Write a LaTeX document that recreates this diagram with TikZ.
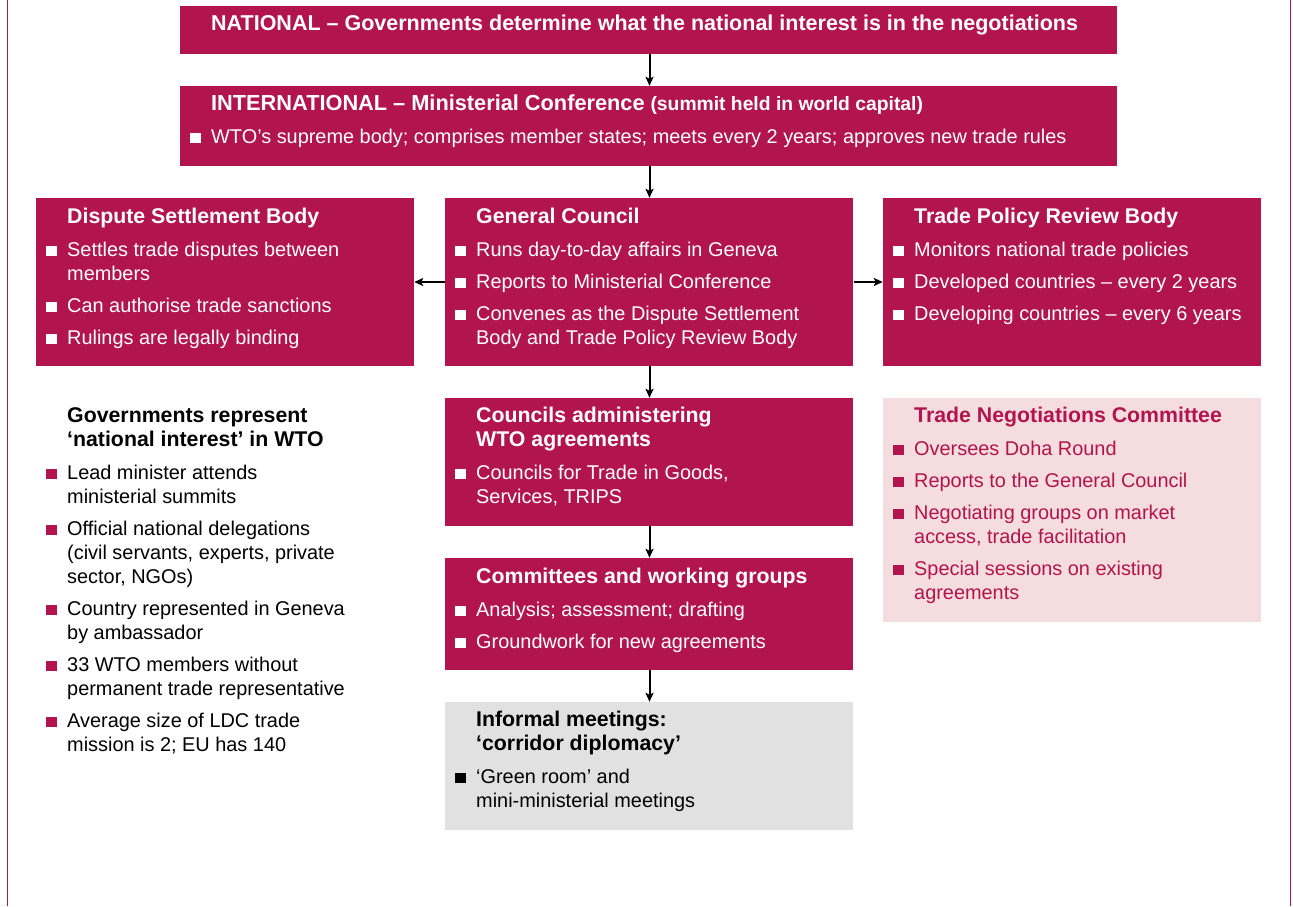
\documentclass[tikz,border=0pt]{standalone}
\usepackage{fontspec}
\setmainfont{Liberation Sans}
\usetikzlibrary{arrows.meta}

\definecolor{wtored}{HTML}{B2144D}
\definecolor{wtopink}{HTML}{F5DCDE}
\definecolor{wtogrey}{HTML}{E1E1E1}

% fonts
\newcommand\titlefont{\fontsize{21.3}{24}\selectfont\bfseries}
\newcommand\headfont{\fontsize{21.5}{24}\selectfont\bfseries}
\newcommand\intfont{\fontsize{21.75}{24}\selectfont\bfseries}
\newcommand\subfont{\fontsize{19.3}{24}\selectfont\bfseries}
\newcommand\bodyfont{\fontsize{19.9}{24}\selectfont}

% bullet colour is set per box
\newcommand\bulletcol{white}
\newcommand\bitem[1]{\par\vspace{8pt}\noindent\llap{\textcolor{\bulletcol}{\rule{10.5pt}{10.5pt}}\hspace{10.5pt}}#1}
\newcommand\firstitem[1]{\par\vspace{9pt}\noindent\llap{\textcolor{\bulletcol}{\rule{10.5pt}{10.5pt}}\hspace{10.5pt}}#1}
% box content: title lines, then bullet items; first baseline at the node's base
\newcommand\boxtext[2]{\parbox[t]{920pt}{\bodyfont\setlength{\parskip}{0pt}\setlength{\parindent}{0pt}%
  {\titlefont #1\par}#2}}

\begin{document}
\begin{tikzpicture}[x=1pt,y=-1pt,
  redbox/.style={fill=wtored,draw=none},
  pinkbox/.style={fill=wtopink,draw=none},
  greybox/.style={fill=wtogrey,draw=none},
  content/.style={anchor=base west,inner sep=0pt,align=left},
  link/.style={draw=black,line width=2pt,-{Stealth[length=9pt,width=8pt,inset=2pt]}},
  frame/.style={draw=wtored,line width=1.6pt}]
\useasboundingbox (0,0) rectangle (1293,906);

% outer side rules
\coordinate (ltop) at (7.5,0);
\coordinate (lbot) at (7.5,906);
\coordinate (rtop) at (1290.5,0);
\coordinate (rbot) at (1290.5,906);
\draw[frame] (ltop) -- (lbot);
\draw[frame] (rtop) -- (rbot);

% boxes
\path[redbox] (180,6) rectangle (1117,54);
\node[inner sep=0,minimum width=937pt,minimum height=48pt] (nat) at (649.5,30) {};
\path[redbox] (180,86) rectangle (1117,166);
\node[inner sep=0,minimum width=937pt,minimum height=80pt] (int) at (649.5,126) {};
\path[redbox] (36,198) rectangle (414,366);
\node[inner sep=0,minimum width=378pt,minimum height=168pt] (dsb) at (225,282) {};
\path[redbox] (445,198) rectangle (853,366);
\node[inner sep=0,minimum width=408pt,minimum height=168pt] (gc) at (649.5,282) {};
\path[redbox] (883,198) rectangle (1261,366);
\node[inner sep=0,minimum width=378pt,minimum height=168pt] (tprb) at (1072,282) {};
\path[redbox] (445,398) rectangle (853,526);
\node[inner sep=0,minimum width=408pt,minimum height=128pt] (cwa) at (649.5,462) {};
\path[redbox] (445,558) rectangle (853,670);
\node[inner sep=0,minimum width=408pt,minimum height=112pt] (cwg) at (649.5,614) {};
\path[greybox] (445,702) rectangle (853,830);
\node[inner sep=0,minimum width=408pt,minimum height=128pt] (inf) at (649.5,766) {};
\path[pinkbox] (883,398) rectangle (1261,622);
\node[inner sep=0,minimum width=378pt,minimum height=224pt] (tnc) at (1072,510) {};

% texts
\node[content,text=white] (natt) at (211,30)
  {\headfont NATIONAL – Governments determine what the national interest is in the negotiations};
\node[content,text=white] (intt) at (211,110)
  {\boxtext{{\intfont INTERNATIONAL – Ministerial Conference} {\subfont (summit held in world capital)}}
  {\firstitem{WTO’s supreme body; comprises member states; meets every 2 years; approves new trade rules}}};
\node[content,text=white] (dsbt) at (67,223)
  {\boxtext{Dispute Settlement Body}
  {\firstitem{Settles trade disputes between\newline members}
   \bitem{Can authorise trade sanctions}
   \bitem{Rulings are legally binding}}};
\node[content,text=white] (gct) at (476,223)
  {\boxtext{General Council}
  {\firstitem{Runs day-to-day affairs in Geneva}
   \bitem{Reports to Ministerial Conference}
   \bitem{Convenes as the Dispute Settlement\newline Body and Trade Policy Review Body}}};
\node[content,text=white] (tprbt) at (914,223)
  {\boxtext{Trade Policy Review Body}
  {\firstitem{Monitors national trade policies}
   \bitem{Developed countries – every 2 years}
   \bitem{Developing countries – every 6 years}}};
\node[content,text=white] (cwat) at (476,422)
  {\boxtext{Councils administering\\WTO agreements}
  {\firstitem{Councils for Trade in Goods,\newline Services, TRIPS}}};
\node[content,text=white] (cwgt) at (476,583)
  {\boxtext{Committees and working groups}
  {\firstitem{Analysis; assessment; drafting}
   \bitem{Groundwork for new agreements}}};
\node[content,text=black] (inft) at (476,726)
  {\renewcommand\bulletcol{black}\boxtext{Informal meetings:\\‘corridor diplomacy’}
  {\firstitem{‘Green room’ and\newline mini-ministerial meetings}}};
\node[content,text=wtored] (tnct) at (914,422)
  {\renewcommand\bulletcol{wtored}\boxtext{Trade Negotiations Committee}
  {\firstitem{Oversees Doha Round}
   \bitem{Reports to the General Council}
   \bitem{Negotiating groups on market\newline access, trade facilitation}
   \bitem{Special sessions on existing\newline agreements}}};
\node[content,text=black] (govt) at (67,422)
  {\renewcommand\bulletcol{wtored}\boxtext{Governments represent\\‘national interest’ in WTO}
  {\firstitem{Lead minister attends\newline ministerial summits}
   \bitem{Official national delegations\newline (civil servants, experts, private\newline sector, NGOs)}
   \bitem{Country represented in Geneva\newline by ambassador}
   \bitem{33 WTO members without\newline permanent trade representative}
   \bitem{Average size of LDC trade\newline mission is 2; EU has 140}}};

% connectors
\draw[link] (nat.south) -- (int.north);
\draw[link] (int.south) -- (gc.north);
\draw[link] (gc.west) -- (dsb.east);
\draw[link] (gc.east) -- (tprb.west);
\draw[link] (gc.south) -- (cwa.north);
\draw[link] (cwa.south) -- (cwg.north);
\draw[link] (cwg.south) -- (inf.north);
\end{tikzpicture}
\end{document}
